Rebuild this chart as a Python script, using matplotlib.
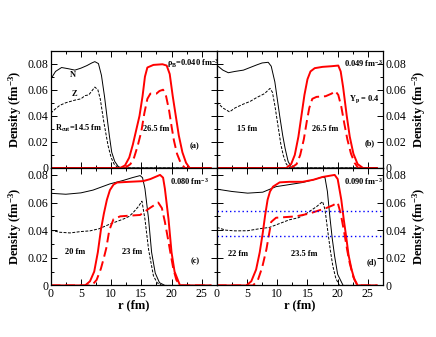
import numpy as np
import matplotlib
matplotlib.use("Agg")
import matplotlib.pyplot as plt
from matplotlib.ticker import MultipleLocator, FuncFormatter

plt.rcParams['font.family'] = ['Liberation Serif', 'DejaVu Serif']
plt.rcParams['mathtext.fontset'] = 'custom'
plt.rcParams['mathtext.rm'] = 'Liberation Serif'
plt.rcParams['mathtext.it'] = 'Liberation Serif:italic'
plt.rcParams['mathtext.bf'] = 'Liberation Serif:bold'
plt.rcParams['mathtext.default'] = 'bf'

# ---- panel (a): rho_B = 0.040, R_cut = 14.5 fm / 26.5 fm
r_a_n = [0, 0.8, 1.8, 3, 4, 5, 6, 6.8, 7.3, 7.9, 8.4, 8.9, 9.3, 9.7, 10.1, 10.6, 11.2, 11.8, 26.5]
rho_a_n = [0.068, 0.074, 0.077, 0.076, 0.075, 0.0765, 0.0785, 0.0805, 0.0815, 0.080, 0.071, 0.055,
           0.040, 0.025, 0.012, 0.005, 0.001, 0, 0]
r_a_z = [0, 0.7, 1.5, 2.5, 4, 5, 5.7, 6.3, 6.8, 7.3, 7.8, 8.2, 8.8, 9.5, 10.0, 10.5, 11.2, 26.5]
rho_a_z = [0.042, 0.045, 0.048, 0.050, 0.052, 0.053, 0.0555, 0.056, 0.059, 0.062, 0.060, 0.053,
           0.035, 0.017, 0.008, 0.003, 0, 0]
r_a_p = [0, 11.5, 12.3, 13.0, 13.6, 14.2, 14.7, 15.2, 15.6, 16.0, 17.0, 18.5, 19.2, 19.7, 20.2,
         20.7, 21.2, 21.8, 22.4, 23.0, 26.5]
rho_a_p = [0, 0, 0.002, 0.008, 0.018, 0.030, 0.040, 0.055, 0.070, 0.077, 0.079, 0.0795, 0.0785,
           0.072, 0.055, 0.040, 0.025, 0.012, 0.004, 0, 0]
r_a_q = [0, 12.3, 13.2, 13.8, 14.4, 15.0, 15.5, 16.0, 16.5, 17.5, 18.0, 18.6, 19.1, 19.6, 20.0,
         20.4, 20.9, 21.5, 22.2, 26.5]
rho_a_q = [0, 0, 0.003, 0.008, 0.017, 0.028, 0.042, 0.053, 0.057, 0.057, 0.059, 0.060, 0.055,
           0.044, 0.032, 0.021, 0.011, 0.004, 0, 0]

# ---- panel (b): rho_B = 0.049, 15 fm / 26.5 fm
r_b_n = [0, 1, 1.9, 3, 4.4, 5.5, 6.6, 7.5, 8.5, 9.0, 9.6, 10.0, 10.4, 10.9, 11.3, 11.8, 12.4, 26.5]
rho_b_n = [0.0787, 0.075, 0.073, 0.074, 0.075, 0.077, 0.079, 0.0805, 0.081, 0.078, 0.066, 0.053,
           0.040, 0.025, 0.015, 0.005, 0, 0]
r_b_z = [0, 1, 2.1, 3, 4.4, 5.5, 6.6, 7.9, 8.8, 9.2, 9.6, 10.2, 10.6, 11.0, 11.5, 12.1, 26.5]
rho_b_z = [0.0505, 0.046, 0.043, 0.046, 0.049, 0.051, 0.054, 0.057, 0.061, 0.058, 0.048, 0.030,
           0.018, 0.0096, 0.003, 0, 0]
r_b_p = [0, 11.5, 12.3, 12.9, 13.5, 14.0, 14.5, 15.0, 15.5, 16.2, 17.5, 19.0, 20.1, 20.5, 20.9,
         21.5, 22.0, 22.6, 23.3, 24.2, 26.5]
rho_b_p = [0, 0, 0.003, 0.010, 0.024, 0.040, 0.056, 0.068, 0.074, 0.0765, 0.0775, 0.078, 0.0785,
           0.074, 0.062, 0.040, 0.024, 0.011, 0.003, 0, 0]
r_b_q = [0, 12.3, 13.2, 13.8, 14.4, 14.9, 15.3, 15.8, 16.5, 18.0, 19.0, 19.6, 20.1, 20.6, 21.1,
         21.6, 22.2, 22.8, 23.4, 26.5]
rho_b_q = [0, 0, 0.003, 0.010, 0.022, 0.036, 0.046, 0.053, 0.0545, 0.055, 0.057, 0.059, 0.056,
           0.047, 0.034, 0.022, 0.011, 0.004, 0, 0]

# ---- panel (c): rho_B = 0.080, 20 fm / 23 fm
r_c_n = [0, 2.5, 5, 7, 9.8, 12, 13.5, 14.8, 15.2, 15.6, 16.2, 16.7, 17.3, 18.0, 18.9, 26.5]
rho_c_n = [0.0667, 0.066, 0.067, 0.069, 0.0735, 0.076, 0.078, 0.0795, 0.078, 0.070, 0.048, 0.024,
           0.009, 0.002, 0, 0]
r_c_z = [0, 1.5, 3.2, 5, 6.5, 8, 9.8, 12.0, 13.0, 13.7, 14.5, 15.1, 15.6, 16.2, 17.0, 17.6, 18.4, 26.5]
rho_c_z = [0.040, 0.0385, 0.038, 0.039, 0.0395, 0.041, 0.0444, 0.048, 0.050, 0.053, 0.057, 0.061,
           0.048, 0.026, 0.007, 0.002, 0, 0]
r_c_p = [0, 5.7, 6.5, 7.2, 7.8, 8.3, 8.8, 9.3, 9.8, 10.4, 11.0, 13.0, 15.3, 16.5, 18.1, 18.6, 18.9,
         19.5, 20.0, 20.5, 21.4, 26.5]
rho_c_p = [0, 0, 0.003, 0.010, 0.024, 0.040, 0.052, 0.062, 0.069, 0.073, 0.0745, 0.075, 0.0755,
           0.077, 0.080, 0.078, 0.070, 0.048, 0.024, 0.010, 0, 0]
r_c_q = [0, 6.8, 7.6, 8.3, 8.8, 9.2, 9.7, 10.4, 11.5, 13.0, 14.8, 16.4, 17.8, 18.4, 18.9, 19.4,
         19.8, 20.3, 20.8, 21.4, 26.5]
rho_c_q = [0, 0, 0.004, 0.012, 0.020, 0.027, 0.040, 0.048, 0.050, 0.0505, 0.051, 0.056, 0.060,
           0.056, 0.046, 0.034, 0.024, 0.012, 0.004, 0, 0]

# ---- panel (d): rho_B = 0.090, 22 fm / 23.5 fm
r_d_n = [0, 2.5, 5.1, 7.6, 9.8, 12, 14.2, 16, 17.5, 17.9, 18.3, 18.7, 19.1, 19.5, 20.0, 20.9, 26.5]
rho_d_n = [0.0697, 0.068, 0.0668, 0.0675, 0.0715, 0.073, 0.0745, 0.0765, 0.0785, 0.078, 0.068,
           0.050, 0.034, 0.021, 0.008, 0, 0]
r_d_z = [0, 1.5, 3, 5.1, 7, 8.7, 10.5, 12.0, 13.5, 14.8, 16.5, 17.5, 17.9, 18.4, 18.8, 19.2, 19.7,
         20.3, 26.5]
rho_d_z = [0.042, 0.040, 0.0395, 0.0396, 0.041, 0.042, 0.045, 0.0475, 0.049, 0.052, 0.057, 0.0607,
           0.055, 0.038, 0.025, 0.014, 0.005, 0, 0]
r_d_p = [0, 4.9, 5.7, 6.5, 7.1, 7.6, 8.0, 8.4, 8.8, 9.3, 10.4, 12, 14.2, 16, 17.5, 19.5, 20.0, 20.6,
         21.0, 21.4, 21.8, 22.3, 22.8, 23.3, 26.5]
rho_d_p = [0, 0, 0.003, 0.0115, 0.024, 0.038, 0.051, 0.062, 0.068, 0.0715, 0.0746, 0.075, 0.075,
           0.0765, 0.0785, 0.080, 0.077, 0.062, 0.048, 0.0355, 0.022, 0.0115, 0.004, 0, 0]
r_d_q = [0, 6.0, 6.8, 7.5, 8.2, 8.6, 9.0, 9.8, 11.5, 13.1, 15.3, 18.1, 19.2, 20.0, 20.5, 21.1,
         21.6, 22.0, 22.6, 23.3, 26.5]
rho_d_q = [0, 0, 0.004, 0.013, 0.026, 0.036, 0.046, 0.049, 0.0495, 0.050, 0.052, 0.056, 0.058,
           0.060, 0.052, 0.038, 0.025, 0.016, 0.006, 0, 0]
blue_levels_d = [0.054, 0.036]

panels = [
    (r_a_n, rho_a_n, r_a_z, rho_a_z, r_a_p, rho_a_p, r_a_q, rho_a_q),
    (r_b_n, rho_b_n, r_b_z, rho_b_z, r_b_p, rho_b_p, r_b_q, rho_b_q),
    (r_c_n, rho_c_n, r_c_z, rho_c_z, r_c_p, rho_c_p, r_c_q, rho_c_q),
    (r_d_n, rho_d_n, r_d_z, rho_d_z, r_d_p, rho_d_p, r_d_q, rho_d_q),
]

fig = plt.figure(figsize=(4.36, 3.37), dpi=100)
gs = fig.add_gridspec(2, 2, left=0.1163, right=0.8784, top=0.850, bottom=0.153,
                      hspace=0, wspace=0)
axes = [fig.add_subplot(gs[i, j]) for i in range(2) for j in range(2)]


def yfmt(v, pos):
    if abs(v) < 1e-9:
        return "0"
    return f"{v:.2f}"


tfs = 8.5
ylab = "Density (fm$^{-3}$)"
for k, ax in enumerate(axes):
    rn, dn, rz, dz, rp, dp, rq, dq = panels[k]
    ax.plot(rn, dn, color='black', lw=0.7)
    ax.plot(rz, dz, color='black', lw=0.7, dashes=(3, 1.5))
    ax.plot(rp, dp, color='red', lw=1.4)
    ax.plot(rq, dq, color='red', lw=1.4, dashes=(5, 2.5))

    ax.set_xlim(0, 27.5)
    ax.set_ylim(0, 0.09 if k < 2 else 0.085)
    ax.xaxis.set_major_locator(MultipleLocator(5))
    ax.xaxis.set_minor_locator(MultipleLocator(2.5))
    ax.yaxis.set_major_locator(MultipleLocator(0.02))
    ax.yaxis.set_minor_locator(MultipleLocator(0.01))
    ax.yaxis.set_major_formatter(FuncFormatter(yfmt))
    ax.tick_params(which='both', direction='in', top=True, bottom=True, left=True, right=True,
                   labelsize=tfs, width=0.7, pad=1.5)
    ax.tick_params(which='major', length=4)
    ax.tick_params(which='minor', length=2)
    for s in ax.spines.values():
        s.set_linewidth(0.9)

    if k < 2:
        ax.tick_params(labelbottom=False)
    else:
        ax.set_xlabel("r (fm)", fontsize=9, fontweight='bold', labelpad=0)
    if k % 2 == 1:
        ax.tick_params(labelleft=False, labelright=True)
        ax.yaxis.set_label_position('right')
        ax.set_ylabel(ylab, fontsize=9, fontweight='bold', rotation=90, labelpad=3)
    else:
        ax.set_ylabel(ylab, fontsize=9, fontweight='bold', labelpad=3)

axes[3].axhline(blue_levels_d[0], color='blue', lw=1.0, ls=(0, (1, 2)))
axes[3].axhline(blue_levels_d[1], color='blue', lw=1.0, ls=(0, (1, 2)))

fs = 6
kw = dict(fontsize=fs, fontweight='bold')
a, b, c, d = axes
a.text(3.7, 0.071, "N", ha='center', va='center', **kw)
a.text(3.9, 0.057, "Z", ha='center', va='center', **kw)
a.text(0.7, 0.030, "R$_{cut}$=14.5 fm", ha='left', va='center', **kw)
a.text(15.3, 0.030, "26.5 fm", ha='left', va='center', **kw)
a.text(23.8, 0.017, "(a)", ha='center', va='center', **kw)
a.text(19.2, 0.080, "ρ$_{B}$=0.040 fm$^{-3}$", ha='left', va='center', **kw)

b.text(21.0, 0.080, "0.049 fm$^{-3}$", ha='left', va='center', **kw)
b.text(21.8, 0.053, "Y$_{p}$ = 0.4", ha='left', va='center', **kw)
b.text(3.3, 0.030, "15 fm", ha='left', va='center', **kw)
b.text(15.7, 0.030, "26.5 fm", ha='left', va='center', **kw)
b.text(25.3, 0.019, "(b)", ha='center', va='center', **kw)

c.text(19.8, 0.075, "0.080 fm$^{-3}$", ha='left', va='center', **kw)
c.text(2.4, 0.024, "20 fm", ha='left', va='center', **kw)
c.text(11.8, 0.024, "23 fm", ha='left', va='center', **kw)
c.text(23.9, 0.0175, "(c)", ha='center', va='center', **kw)

d.text(21.1, 0.075, "0.090 fm$^{-3}$", ha='left', va='center', **kw)
d.text(1.9, 0.023, "22 fm", ha='left', va='center', **kw)
d.text(12.2, 0.023, "23.5 fm", ha='left', va='center', **kw)
d.text(25.6, 0.017, "(d)", ha='center', va='center', **kw)

fig.savefig("out.png", dpi=100)
